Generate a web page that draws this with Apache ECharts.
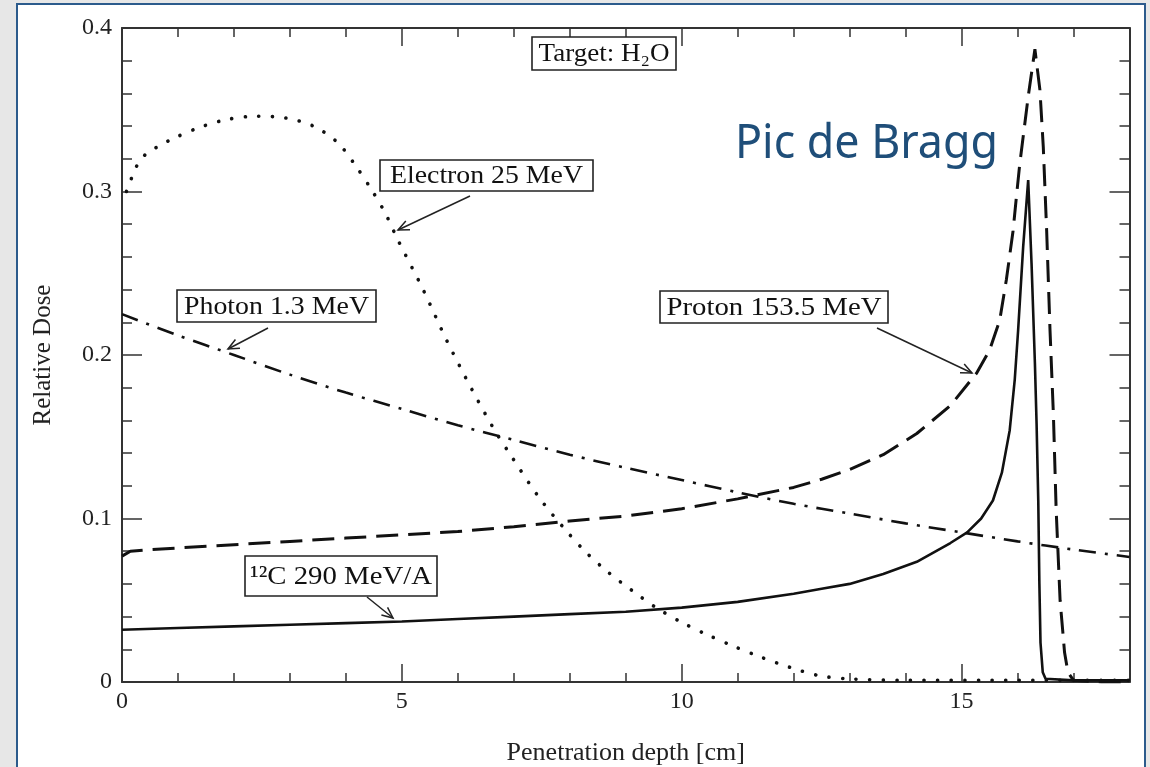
<!DOCTYPE html>
<html><head><meta charset="utf-8">
<script src="https://cdn.jsdelivr.net/npm/echarts@6/dist/echarts.min.js"></script>
<style>html,body{margin:0;padding:0;background:#e7e7e7;}#c{width:1150px;height:767px;}</style>
</head><body><div id="c"></div>
<script>
// ---- data ----
const electronDepth = [0.08, 0.18, 0.27, 0.43, 0.67, 0.89, 1.37, 1.87, 2.38, 2.92, 3.42, 3.85, 4.17, 4.46, 4.70, 4.92, 5.38, 5.80, 6.25, 6.64, 6.90, 7.47, 7.95, 8.30, 8.69, 9.11, 9.52, 9.97, 10.45, 10.92, 11.43, 11.93, 12.44, 12.95, 14, 16, 18];
const electronDose  = [0.300, 0.309, 0.316, 0.323, 0.328, 0.332, 0.339, 0.344, 0.346, 0.345, 0.340, 0.330, 0.316, 0.301, 0.287, 0.271, 0.240, 0.209, 0.179, 0.155, 0.141, 0.112, 0.092, 0.079, 0.067, 0.056, 0.046, 0.037, 0.029, 0.022, 0.015, 0.009, 0.004, 0.002, 0.001, 0.001, 0.001];

const photonDepth = [0, 1, 2, 3, 4, 5, 6, 7, 8, 9, 10, 11, 12, 13, 14, 15, 16, 17, 18];
const photonDose  = [0.225, 0.212, 0.200, 0.188, 0.177, 0.167, 0.157, 0.148, 0.139, 0.131, 0.1235, 0.116, 0.109, 0.103, 0.097, 0.0915, 0.086, 0.081, 0.0765];

const protonDepth = [0, 0.15, 0.5, 1, 2, 3, 4, 5, 6, 7, 8, 9, 10, 11, 12, 12.5, 13, 13.6, 14.2, 14.8, 15.27, 15.5, 15.68, 15.80, 15.92, 15.98, 16.04, 16.19, 16.31, 16.40, 16.46, 16.52, 16.58, 16.64, 16.69, 16.76, 16.84, 16.90, 17.0, 17.5, 18];
const protonDose  = [0.077, 0.080, 0.081, 0.082, 0.084, 0.086, 0.088, 0.090, 0.092, 0.095, 0.0985, 0.1015, 0.106, 0.112, 0.119, 0.124, 0.130, 0.139, 0.152, 0.169, 0.189, 0.203, 0.221, 0.246, 0.276, 0.297, 0.317, 0.358, 0.387, 0.362, 0.327, 0.276, 0.215, 0.164, 0.105, 0.050, 0.018, 0.006, 0.001, 0.000, 0.000];

const carbonDepth = [0, 1, 2, 3, 4, 5, 6, 7, 8, 9, 10, 11, 12, 12.5, 13, 13.6, 14.2, 14.8, 15.1, 15.35, 15.56, 15.72, 15.86, 15.95, 16.01, 16.10, 16.19, 16.25, 16.31, 16.34, 16.37, 16.39, 16.41, 16.45, 16.5, 17, 18];
const carbonDose  = [0.032, 0.033, 0.034, 0.035, 0.036, 0.037, 0.0385, 0.040, 0.0415, 0.043, 0.0455, 0.049, 0.054, 0.057, 0.060, 0.066, 0.0735, 0.085, 0.0915, 0.100, 0.111, 0.128, 0.154, 0.185, 0.215, 0.266, 0.307, 0.256, 0.195, 0.158, 0.111, 0.060, 0.024, 0.006, 0.002, 0.001, 0.001];

const xMajorTicks = [0, 5, 10, 15];
const yTickLabels = ['0', '0.1', '0.2', '0.3', '0.4'];

// ---- style / layout ----
const serif = '"Liberation Serif","Times New Roman",serif';
const ink = '#111';
const axisCol = '#333';
const zip = (a, b) => a.map((v, i) => [v, b[i]]);

const mctx = document.createElement('canvas').getContext('2d');
function scaleFor(str, font, target) { mctx.font = font; return target / mctx.measureText(str).width; }

const labelBoxes = [
  { text: 'Target: H\u2082O',   x: 532, y: 37,  w: 144, h: 33, tw: 131 },
  { text: 'Electron 25 MeV',    x: 380, y: 160, w: 213, h: 31, tw: 193 },
  { text: 'Photon 1.3 MeV',     x: 177, y: 290, w: 199, h: 32, tw: 185 },
  { text: 'Proton 153.5 MeV',   x: 660, y: 291, w: 228, h: 32, tw: 215 },
  { text: '\u00B9\u00B2C 290 MeV/A', x: 245, y: 556, w: 192, h: 40, tw: 182 }
];
const arrows = [[470, 196, 398, 230], [268, 328, 228, 349], [877, 328, 972, 373], [367, 597, 393, 618]];

const graphics = [
  { type: 'rect', z: -100, silent: true, shape: { x: 17, y: 4, width: 1128, height: 800 },
    style: { fill: '#fff', stroke: '#2c5b8c', lineWidth: 2 } }
];
labelBoxes.forEach(b => {
  const font = '26px ' + serif;
  graphics.push({ type: 'rect', z: 10, shape: { x: b.x, y: b.y, width: b.w, height: b.h },
    style: { fill: '#fff', stroke: '#222', lineWidth: 1.6 } });
  graphics.push({ type: 'text', z: 11, x: b.x + b.w / 2, y: b.y + b.h / 2 + 1, scaleX: scaleFor(b.text, font, b.tw),
    style: { text: b.text, font: font, fill: '#111', align: 'center', verticalAlign: 'middle' } });
});
arrows.forEach(a => {
  const [x1, y1, x2, y2] = a;
  const ang = Math.atan2(y2 - y1, x2 - x1), L = 12, s = 0.42;
  graphics.push({ type: 'line', z: 9, shape: { x1, y1, x2, y2 }, style: { stroke: '#222', lineWidth: 1.5 } });
  graphics.push({ type: 'polyline', z: 9, shape: { points: [
      [x2 - L * Math.cos(ang - s), y2 - L * Math.sin(ang - s)], [x2, y2],
      [x2 - L * Math.cos(ang + s), y2 - L * Math.sin(ang + s)]] },
    style: { stroke: '#222', lineWidth: 1.5, fill: null } });
});
const braggFont = '48px "Noto Sans","Open Sans",sans-serif';
graphics.push({ type: 'text', z: 11, x: 735, y: 144, scaleX: scaleFor('Pic de Bragg', braggFont, 263),
  style: { text: 'Pic de Bragg', font: braggFont, fill: '#1f4e79', align: 'left', verticalAlign: 'middle' } });

function xAx(pos, interval, len, labels, line) {
  return {
    type: 'value', position: pos, min: 0, max: 18, interval: interval,
    axisLine: { show: line, onZero: false, lineStyle: { color: axisCol, width: 2 } },
    axisTick: { show: true, inside: true, length: len, lineStyle: { color: axisCol, width: 1.5 } },
    axisLabel: labels ? { show: true, showMaxLabel: false, fontFamily: serif, fontSize: 24, color: '#222', margin: 8,
      formatter: v => xMajorTicks.indexOf(v) >= 0 ? String(v) : '' } : { show: false },
    splitLine: { show: false }
  };
}
function yAx(pos, labels) {
  return {
    type: 'value', position: pos, min: 0, max: 0.4, interval: 0.1,
    axisLine: { show: true, onZero: false, lineStyle: { color: axisCol, width: 2 } },
    axisTick: { show: true, inside: true, length: 20, lineStyle: { color: axisCol, width: 1.5 } },
    minorTick: { show: true, splitNumber: 5, length: 10, lineStyle: { color: axisCol, width: 1.5 } },
    axisLabel: labels ? { show: true, fontFamily: serif, fontSize: 24, color: '#222', margin: 10,
      formatter: v => yTickLabels[Math.round(v * 10)] } : { show: false },
    splitLine: { show: false }, minorSplitLine: { show: false }
  };
}

const xAxes = [xAx('bottom', 5, 18, true, true), xAx('top', 5, 18, false, true), xAx('bottom', 1, 9, false, false), xAx('top', 1, 9, false, false)];
Object.assign(xAxes[0], { name: 'Penetration depth [cm]', nameLocation: 'middle', nameGap: 58,
  nameTextStyle: { fontFamily: serif, fontSize: 26, color: '#222' } });
const yAxes = [yAx('left', true), yAx('right', false)];
Object.assign(yAxes[0], { name: 'Relative Dose', nameLocation: 'middle', nameGap: 66,
  nameTextStyle: { fontFamily: serif, fontSize: 25, color: '#222' } });

const chart = echarts.init(document.getElementById('c'), null, { renderer: 'canvas' });
chart.setOption({
  animation: false,
  backgroundColor: '#e7e7e7',
  grid: { left: 122, right: 20.5, top: 28, bottom: 85, containLabel: false, outerBoundsMode: 'none' },
  xAxis: xAxes,
  yAxis: yAxes,
  series: [
    { type: 'line', name: 'Electron 25 MeV', data: zip(electronDepth, electronDose), showSymbol: false, smooth: 0.3,
      lineStyle: { color: ink, width: 3.6, type: [0.1, 13.5], cap: 'round' } },
    { type: 'line', name: 'Photon 1.3 MeV', data: zip(photonDepth, photonDose), showSymbol: false, smooth: 0.3,
      lineStyle: { color: ink, width: 2.6, type: [17, 9, 3, 9] } },
    { type: 'line', name: 'Proton 153.5 MeV', data: zip(protonDepth, protonDose), showSymbol: false, smooth: false,
      lineStyle: { color: ink, width: 3, type: [22, 10] } },
    { type: 'line', name: '12C 290 MeV/A', data: zip(carbonDepth, carbonDose), showSymbol: false, smooth: false,
      lineStyle: { color: ink, width: 2.6, type: 'solid' } }
  ],
  graphic: graphics
});
</script></body></html>
